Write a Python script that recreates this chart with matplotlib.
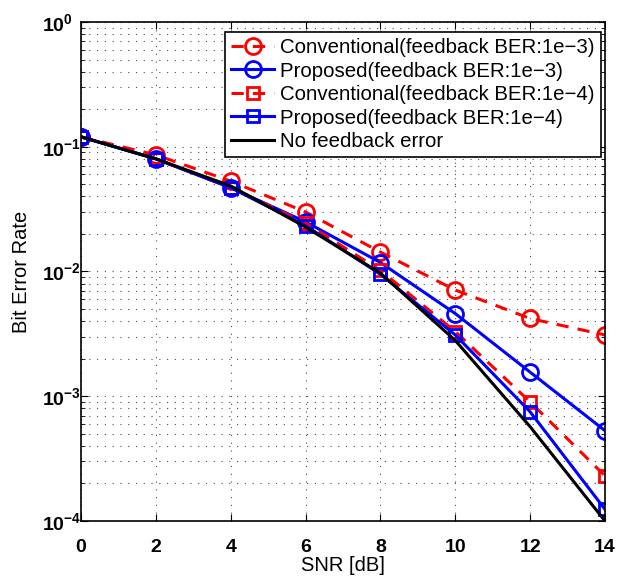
import matplotlib
matplotlib.use('Agg')
import matplotlib.pyplot as plt
from matplotlib.ticker import LogLocator, NullFormatter

plt.rcParams['font.family'] = ['Liberation Sans', 'DejaVu Sans']

snr = [0, 2, 4, 6, 8, 10, 12, 14]
conv_1e3 = [0.12, 0.086, 0.053, 0.030, 0.0143, 0.0071, 0.0042, 0.0031]
prop_1e3 = [0.12, 0.080, 0.047, 0.025, 0.0118, 0.0046, 0.00156, 0.00053]
conv_1e4 = [0.12, 0.080, 0.047, 0.0245, 0.0102, 0.0033, 0.00090, 0.00023]
prop_1e4 = [0.12, 0.080, 0.047, 0.0233, 0.0095, 0.0031, 0.00075, 0.000124]
no_err = [0.12, 0.080, 0.0485, 0.0227, 0.0097, 0.0028, 0.00057, 0.0001]

fig = plt.figure(figsize=(6.3, 5.76), dpi=100)
ax = fig.add_axes([0.1286, 0.0955, 0.8317, 0.8663])

lw = 2.2
ax.plot(snr, conv_1e3, 'r--o', lw=lw, ms=11.5, mfc='none', mew=2, dashes=(4, 3),
        label='Conventional(feedback BER:1e\u22123)')
ax.plot(snr, prop_1e3, 'b-o', lw=lw, ms=11.5, mfc='none', mew=2,
        label='Proposed(feedback BER:1e\u22123)')
ax.plot(snr, conv_1e4, 'r--s', lw=lw, ms=9, mfc='none', mew=2, dashes=(4, 3),
        label='Conventional(feedback BER:1e\u22124)')
ax.plot(snr, prop_1e4, 'b-s', lw=lw, ms=9, mfc='none', mew=2,
        label='Proposed(feedback BER:1e\u22124)')
ax.plot(snr, no_err, 'k-', lw=lw, label='No feedback error')

ax.set_yscale('log')
ax.set_xlim(0, 14)
ax.set_ylim(1e-4, 1)
ax.set_xticks(range(0, 15, 2))
ax.yaxis.set_major_locator(LogLocator(base=10, numticks=10))
ax.yaxis.set_minor_locator(LogLocator(base=10, subs=range(2, 10), numticks=50))
ax.yaxis.set_minor_formatter(NullFormatter())

dots = (0, (1, 6))
ax.grid(True, which='major', color='k', linestyle=dots, linewidth=0.8, alpha=0.7)
ax.grid(True, which='minor', axis='y', color='k', linestyle=dots, linewidth=0.8, alpha=0.7)
ax.set_axisbelow(True)
ax.tick_params(which='both', direction='in', top=True, right=True)
ax.tick_params(which='major', length=5, labelsize=14)
ax.tick_params(axis='x', which='major', pad=13)
ax.tick_params(axis='y', which='major', pad=28)
ax.tick_params(which='minor', length=3)
for lab in ax.get_xticklabels():
    lab.set_fontweight('bold')
for lab in ax.get_yticklabels():
    lab.set_fontweight('bold')
    lab.set_horizontalalignment('left')
for sp in ax.spines.values():
    sp.set_linewidth(1.2)

ax.set_xlabel('SNR [dB]', fontsize=14.5, labelpad=0)
ax.set_ylabel('Bit Error Rate', fontsize=14.5)
ax.yaxis.set_label_coords(-0.095, 0.5)

leg = ax.legend(loc='upper right', bbox_to_anchor=(0.992, 0.98), fontsize=14.7,
                fancybox=False, framealpha=1, edgecolor='k', borderaxespad=0,
                handlelength=2.1, labelspacing=0.22, borderpad=0.3,
                handletextpad=0.3)
leg.get_frame().set_linewidth(1.2)

fig.savefig('out.png', dpi=100)
